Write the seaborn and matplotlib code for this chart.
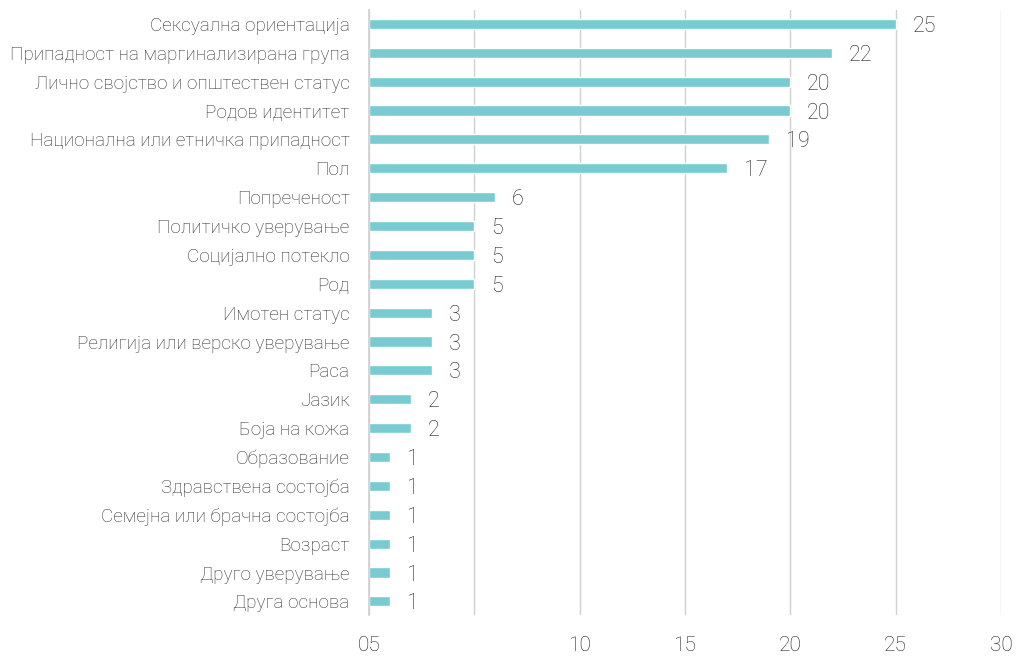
import matplotlib
matplotlib.use("Agg")
import matplotlib.pyplot as plt
import seaborn as sns
import pandas as pd

categories = [
    "Сексуална ориентација",
    "Припадност на маргинализирана група",
    "Лично својство и општествен статус",
    "Родов идентитет",
    "Национална или етничка припадност",
    "Пол",
    "Попреченост",
    "Политичко уверување",
    "Социјално потекло",
    "Род",
    "Имотен статус",
    "Религија или верско уверување",
    "Раса",
    "Јазик",
    "Боја на кожа",
    "Образование",
    "Здравствена состојба",
    "Семејна или брачна состојба",
    "Возраст",
    "Друго уверување",
    "Друга основа",
]
values = [25, 22, 20, 20, 19, 17, 6, 5, 5, 5, 3, 3, 3, 2, 2, 1, 1, 1, 1, 1, 1]
tick_values = [0, 5, 10, 15, 20, 25, 30]
tick_labels = ["05", "", "10", "15", "20", "25", "30"]

df = pd.DataFrame({"category": categories, "value": values})

sns.set_theme(style="white")
plt.rcParams["font.family"] = ["Roboto", "DejaVu Sans"]

fig = plt.figure(figsize=(10.21, 6.59), dpi=100)
ax = fig.add_axes([0.3614, 0.0668, 0.619, 0.918])

sns.barplot(data=df, x="value", y="category", color="#78CBD0", saturation=1,
            width=0.35, ax=ax)

for i, v in enumerate(values):
    ax.annotate(str(v), (v, i), xytext=(12, 0), textcoords="offset points",
                va="center_baseline", ha="left", fontsize=15.5, color="#222222",
                fontweight="light")

ax.set_xlim(0, 30)
ax.set_ylim(20.47, -0.48)
ax.set_xticks(tick_values)
ax.set_xticklabels(tick_labels, fontsize=15, color="#222222", fontweight="light")
ax.tick_params(axis="x", length=0, pad=15)
ax.tick_params(axis="y", length=0, pad=14, labelsize=13.6, labelcolor="#333333")
for lab in ax.get_yticklabels():
    lab.set_fontweight("light")
ax.set_xlabel("")
ax.set_ylabel("")
ax.xaxis.grid(True, color="#d0d0d0", linewidth=1)
ax.set_axisbelow(True)
for s in ["top", "right", "bottom"]:
    ax.spines[s].set_visible(False)
ax.spines["left"].set_color("#d0d0d0")

fig.savefig("out.png", dpi=100)
